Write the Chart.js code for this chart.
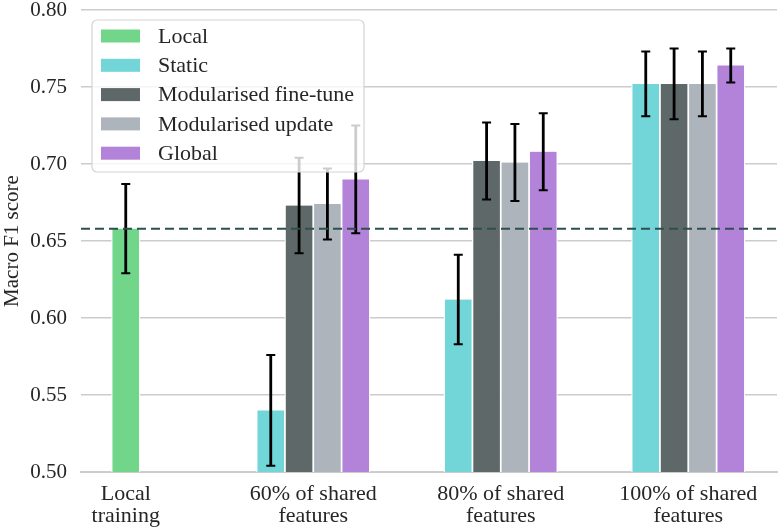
<!DOCTYPE html>
<html>
<head>
<meta charset="utf-8">
<title>Macro F1 score</title>
<script src="https://cdn.jsdelivr.net/npm/chart.js@4.4.1/dist/chart.umd.min.js"></script>
<style>
  html, body { margin: 0; padding: 0; background: #fff; }
  #wrap { width: 782px; height: 530px; }
</style>
</head>
<body>
<div id="wrap"><canvas id="scoreChart"></canvas></div>
<script>
// categories on the x axis (multi-line labels)
const categories = [
  ['Local', 'training'],
  ['60% of shared', 'features'],
  ['80% of shared', 'features'],
  ['100% of shared', 'features']
];
const seriesNames = ['Local', 'Static', 'Modularised fine-tune', 'Modularised update', 'Global'];

// mean macro F1 per category
const localScore    = [0.658, null, null, null];
const staticScore   = [null, 0.540, 0.612, 0.752];
const fineTuneScore = [null, 0.673, 0.702, 0.752];
const updateScore   = [null, 0.674, 0.701, 0.752];
const globalScore   = [null, 0.690, 0.708, 0.764];

// error bar half-widths
const localErr    = [0.029, null, null, null];
const staticErr   = [null, 0.036, 0.029, 0.021];
const fineTuneErr = [null, 0.031, 0.025, 0.023];
const updateErr   = [null, 0.023, 0.025, 0.021];
const globalErr   = [null, 0.035, 0.025, 0.011];

const yTicks = [0.50, 0.55, 0.60, 0.65, 0.70, 0.75, 0.80];

const colors = ['#72d68a', '#72d5d8', '#5f6868', '#adb4bc', '#b283d9'];
const FONT = "'Liberation Serif', 'DejaVu Serif', serif";
const TEXT = '#262626';

const errorBarPlugin = {
  id: 'errorBars',
  afterDatasetsDraw(chart) {
    const { ctx, scales: { y }, chartArea } = chart;
    ctx.save();
    chart.data.datasets.forEach((ds, i) => {
      const meta = chart.getDatasetMeta(i);
      ds.errors.forEach((err, j) => {
        const v = ds.data[j];
        if (v === null || err === null) return;
        const x = meta.data[j].x;
        const top = y.getPixelForValue(v + err);
        const bot = y.getPixelForValue(v - err);
        ctx.strokeStyle = '#000';
        ctx.lineWidth = 2.8;
        ctx.beginPath();
        ctx.moveTo(x, top);
        ctx.lineTo(x, bot);
        ctx.stroke();
        ctx.lineWidth = 2;
        ctx.beginPath();
        ctx.moveTo(x - 4.5, top);
        ctx.lineTo(x + 4.5, top);
        ctx.moveTo(x - 4.5, bot);
        ctx.lineTo(x + 4.5, bot);
        ctx.stroke();
      });
    });

    // dashed reference line at the local training score
    const yRef = y.getPixelForValue(localScore[0]);
    ctx.strokeStyle = '#2f4f4f';
    ctx.lineWidth = 2;
    ctx.setLineDash([9, 5]);
    ctx.beginPath();
    ctx.moveTo(chartArea.left, yRef);
    ctx.lineTo(chartArea.right, yRef);
    ctx.stroke();
    ctx.restore();
  }
};

const legendPlugin = {
  id: 'boxLegend',
  afterDraw(chart) {
    const { ctx, chartArea } = chart;
    const x0 = chartArea.left + 11;
    const y0 = chartArea.top + 10;
    const w = 272, h = 152, r = 5;
    ctx.save();
    ctx.fillStyle = 'rgba(255,255,255,0.8)';
    ctx.strokeStyle = '#d4d4d4';
    ctx.lineWidth = 1.2;
    ctx.beginPath();
    ctx.roundRect(x0, y0, w, h, r);
    ctx.fill();
    ctx.stroke();
    ctx.font = '22px ' + FONT;
    ctx.textBaseline = 'middle';
    chart.data.datasets.forEach((ds, i) => {
      const cy = y0 + 16 + i * 29.3;
      ctx.fillStyle = ds.backgroundColor;
      ctx.fillRect(x0 + 9, cy - 6.5, 39, 13);
      ctx.fillStyle = TEXT;
      ctx.fillText(ds.label, x0 + 66, cy + 1);
    });
    ctx.restore();
  }
};

const seriesData = [localScore, staticScore, fineTuneScore, updateScore, globalScore];
const seriesErr = [localErr, staticErr, fineTuneErr, updateErr, globalErr];

new Chart(document.getElementById('scoreChart'), {
  type: 'bar',
  data: {
    labels: categories.map((_, i) => i),
    datasets: seriesNames.map((name, i) => ({
      label: name,
      data: seriesData[i],
      errors: seriesErr[i],
      backgroundColor: colors[i],
      borderColor: '#ffffff',
      borderWidth: { left: 1.2, right: 1.2, top: 0, bottom: 0 },
      barThickness: 28.33,
      skipNull: true
    }))
  },
  options: {
    responsive: true,
    maintainAspectRatio: false,
    animation: false,
    events: [],
    layout: { padding: { top: 10, right: 5, bottom: 0, left: 0 } },
    plugins: {
      legend: { display: false },
      tooltip: { enabled: false }
    },
    scales: {
      x: {
        type: 'linear',
        min: -0.2387,
        max: 3.4733,
        offset: false,
        grid: { display: false, drawTicks: false, offset: false },
        border: { display: true, color: '#cccccc', width: 2 },
        afterBuildTicks: (scale) => {
          scale.ticks = categories.map((_, i) => ({ value: i }));
        },
        afterFit: (scale) => {
          scale.height = 58;
          scale.paddingLeft = 0;
          scale.paddingRight = 0;
        },
        ticks: {
          autoSkip: false,
          maxRotation: 0,
          padding: 11,
          color: TEXT,
          font: { family: FONT, size: 22, lineHeight: 1.0 },
          callback: (v) => categories[v]
        }
      },
      y: {
        min: 0.5,
        max: 0.8,
        afterBuildTicks: (scale) => {
          scale.ticks = yTicks.map(v => ({ value: v }));
        },
        afterFit: (scale) => {
          scale.width = 81;
          scale.paddingTop = 0;
          scale.paddingBottom = 0;
        },
        grid: { color: '#cccccc', lineWidth: 1.5, drawTicks: false },
        border: { display: false },
        ticks: {
          padding: 14,
          color: TEXT,
          font: { family: FONT, size: 21 },
          callback: (v) => v.toFixed(2)
        },
        title: {
          display: true,
          text: 'Macro F1 score',
          color: TEXT,
          padding: { top: 0, bottom: 0 },
          font: { family: FONT, size: 21 }
        }
      }
    }
  },
  plugins: [errorBarPlugin, legendPlugin]
});
</script>
</body>
</html>
